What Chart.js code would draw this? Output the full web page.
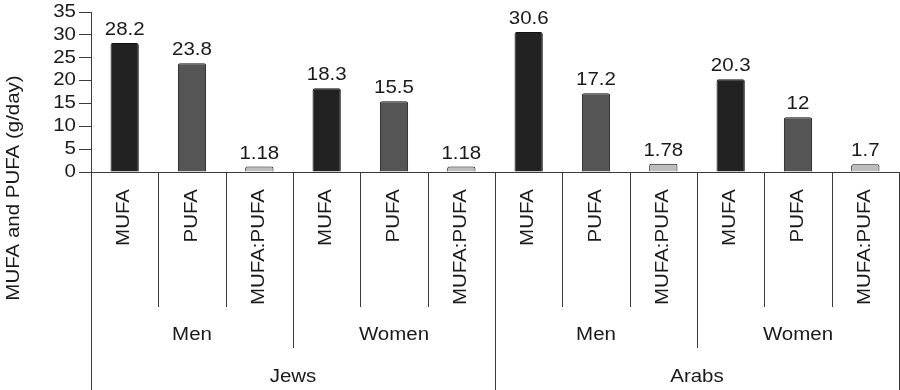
<!DOCTYPE html>
<html>
<head>
<meta charset="utf-8">
<script src="https://cdn.jsdelivr.net/npm/chart.js@4"></script>
<style>
  html, body { margin: 0; padding: 0; background: #fff; }
  #wrap { width: 900px; height: 390px; }
</style>
</head>
<body>
<div id="wrap"><canvas id="fatChart"></canvas></div>
<script>
// data
const groups = ["Jews", "Arabs"];
const sexes = ["Men", "Women"];
const fats = ["MUFA", "PUFA", "MUFA:PUFA"];
const values = [28.2, 23.8, 1.18, 18.3, 15.5, 1.18, 30.6, 17.2, 1.78, 20.3, 12, 1.7];
const valueLabels = ["28.2", "23.8", "1.18", "18.3", "15.5", "1.18", "30.6", "17.2", "1.78", "20.3", "12", "1.7"];
const yTicks = [0, 5, 10, 15, 20, 25, 30, 35];

const COLORS = {
    fats: ["#222222", "#555555", "#bdbdbd"],
    border: "#111111",
    axis: "#3a3a3a",
    text: "#1a1a1a"
};
const FONT = "17.5px 'Liberation Sans', Arial, sans-serif";
const STRETCH = 1.17; // the figure's type is set wide

function wideText(ctx, text, x, y, opts) {
    ctx.save();
    ctx.translate(x, y);
    if (opts.rotate) ctx.rotate(-Math.PI / 2);
    ctx.scale(STRETCH, 1);
    ctx.textAlign = opts.align || "center";
    ctx.textBaseline = opts.baseline || "alphabetic";
    ctx.fillText(text, 0, 0);
    ctx.restore();
}

// one label per bar, fat type is the innermost level
const labels = [];
const barColors = [];
groups.forEach(() => sexes.forEach(() => fats.forEach((f, i) => {
    labels.push(f);
    barColors.push(COLORS.fats[i]);
})));

// value labels, y tick labels, nested category axis and y title
const decorations = {
    id: "decorations",
    afterDatasetsDraw(chart) {
        const ctx = chart.ctx;
        const meta = chart.getDatasetMeta(0);
        ctx.save();
        ctx.font = FONT;
        ctx.fillStyle = COLORS.text;
        meta.data.forEach((bar, i) => {
            wideText(ctx, valueLabels[i], bar.x, bar.y - 8, {});
        });
        ctx.restore();
    },
    afterDraw(chart) {
        const ctx = chart.ctx;
        const x = chart.scales.x;
        const y = chart.scales.y;
        const area = chart.chartArea;
        const base = area.bottom;
        const n = labels.length;
        const step = (area.right - area.left) / n;
        const edge = k => area.left + k * step;

        ctx.save();
        ctx.strokeStyle = COLORS.axis;
        ctx.lineWidth = 1;

        // separators: depth depends on which level changes at this edge
        for (let k = 0; k <= n; k++) {
            let bottom = base + 135;
            if (k % fats.length === 0) bottom = base + 176;
            if (k % (fats.length * sexes.length) === 0) bottom = 390;
            const px = Math.round(edge(k)) + 0.5;
            ctx.beginPath();
            ctx.moveTo(px, base);
            ctx.lineTo(px, bottom);
            ctx.stroke();
        }

        ctx.font = FONT;
        ctx.fillStyle = COLORS.text;

        // y tick labels
        yTicks.forEach(v => {
            wideText(ctx, String(v), area.left - 15, y.getPixelForValue(v), { align: "right", baseline: "middle" });
        });

        // fat type labels, rotated
        labels.forEach((lab, i) => {
            wideText(ctx, lab, x.getPixelForValue(i), base + 17, { rotate: true, align: "right", baseline: "middle" });
        });

        // sex and group labels
        const perGroup = fats.length * sexes.length;
        groups.forEach((g, gi) => {
            sexes.forEach((s, si) => {
                const k0 = gi * perGroup + si * fats.length;
                wideText(ctx, s, (edge(k0) + edge(k0 + fats.length)) / 2, base + 163, { baseline: "middle" });
            });
            wideText(ctx, g, (edge(gi * perGroup) + edge((gi + 1) * perGroup)) / 2, base + 205, { baseline: "middle" });
        });

        // y axis title
        wideText(ctx, "MUFA and PUFA (g/day)", 14, 188, { rotate: true, baseline: "middle" });

        ctx.restore();
    }
};

new Chart(document.getElementById("fatChart"), {
    type: "bar",
    data: {
        labels: labels,
        datasets: [{
            data: values,
            backgroundColor: barColors,
            borderColor: COLORS.border,
            borderWidth: 1,
            borderRadius: 2,
            borderSkipped: "bottom",
            categoryPercentage: 1,
            barPercentage: 0.42
        }]
    },
    options: {
        responsive: true,
        maintainAspectRatio: false,
        animation: false,
        layout: {
            padding: { left: 0, right: 1, top: 12, bottom: 0 }
        },
        scales: {
            x: {
                ticks: { display: false },
                grid: { display: false },
                border: { display: true, color: COLORS.axis, width: 1 },
                afterFit: scale => { scale.height = 218; }
            },
            y: {
                min: 0,
                max: 35,
                afterBuildTicks: scale => {
                    scale.ticks = yTicks.map(v => ({ value: v }));
                },
                ticks: { display: false },
                grid: {
                    drawOnChartArea: false,
                    drawTicks: true,
                    tickLength: 12,
                    color: COLORS.axis
                },
                border: { display: true, color: COLORS.axis, width: 1 },
                afterFit: scale => { scale.width = 91; }
            }
        },
        plugins: {
            legend: { display: false },
            tooltip: { enabled: false }
        }
    },
    plugins: [decorations]
});
</script>
</body>
</html>
